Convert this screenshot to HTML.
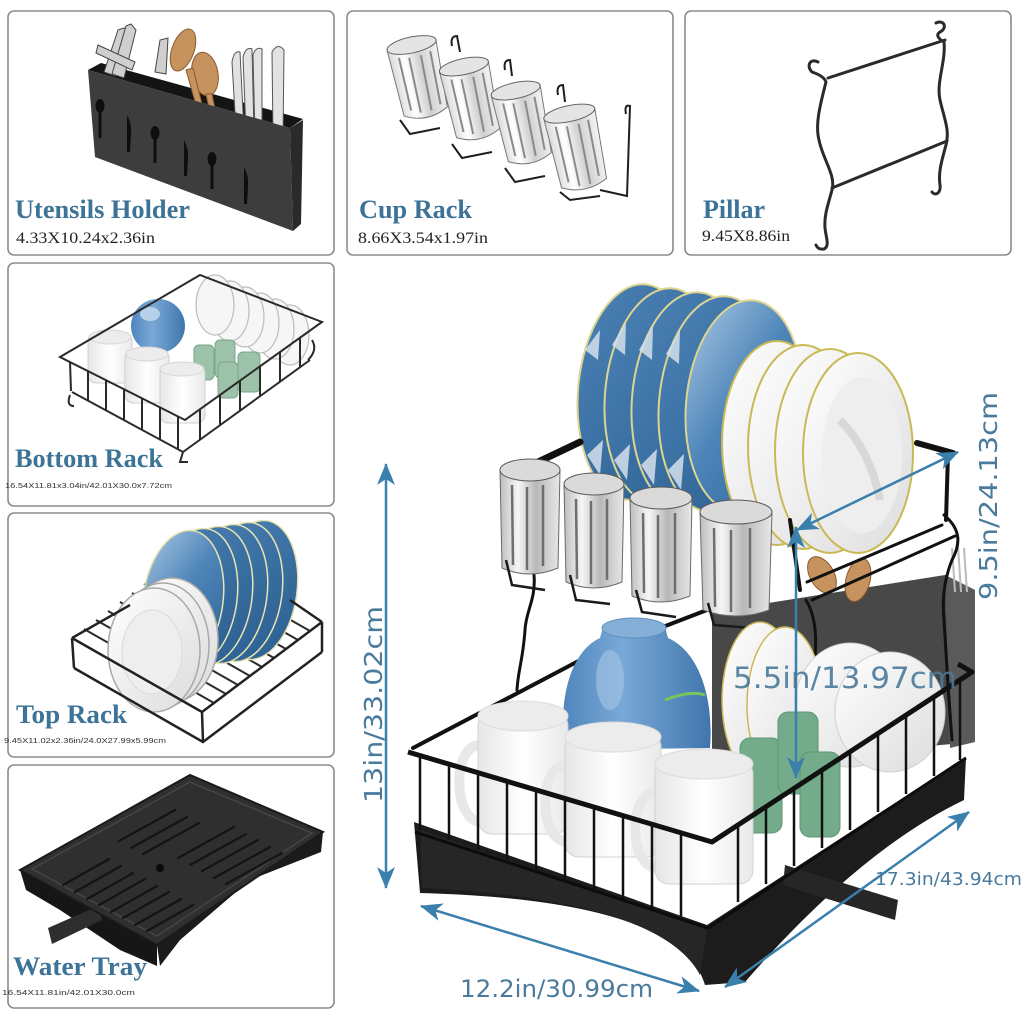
<!DOCTYPE html>
<html><head><meta charset="utf-8"><style>
html,body{margin:0;padding:0;background:#fff;}
svg{display:block}
.t{font-family:"Liberation Serif",serif;font-weight:bold;fill:#3c7396;font-size:26px}
.s{font-family:"Liberation Serif",serif;fill:#222;font-size:16px}
.m{font-family:"Liberation Sans",sans-serif;fill:#333;font-size:7.5px}
.d{font-family:"DejaVu Sans","Liberation Sans",sans-serif;fill:#4a7a9c}
</style></head><body>
<svg width="1024" height="1024" viewBox="0 0 1024 1024" xmlns="http://www.w3.org/2000/svg">
<defs>
<marker id="ah" markerUnits="userSpaceOnUse" markerWidth="22" markerHeight="18" viewBox="0 0 22 18" refX="21" refY="9" orient="auto-start-reverse"><path d="M0,0 L22,9 L0,18 L6,9 Z" fill="#3b7fad"/></marker>
<linearGradient id="bp" x1="0" y1="0" x2="1" y2="1"><stop offset="0" stop-color="#4c82b6"/><stop offset="1" stop-color="#2a5e90"/></linearGradient>
<linearGradient id="bp2" x1="0" y1="0" x2="1" y2="1"><stop offset="0" stop-color="#a9c6e2"/><stop offset="0.45" stop-color="#4f86ba"/><stop offset="1" stop-color="#2d6296"/></linearGradient>
<linearGradient id="wp" x1="0" y1="0" x2="1" y2="1"><stop offset="0" stop-color="#ffffff"/><stop offset="1" stop-color="#dcdcdc"/></linearGradient>
<linearGradient id="bowl" x1="0" y1="0" x2="1" y2="0"><stop offset="0" stop-color="#4f86bd"/><stop offset="0.4" stop-color="#7aa8d6"/><stop offset="1" stop-color="#3f76ad"/></linearGradient>
<linearGradient id="gl" x1="0" y1="0" x2="1" y2="0"><stop offset="0" stop-color="#d8d8d8"/><stop offset="0.3" stop-color="#ffffff"/><stop offset="0.6" stop-color="#cfcfcf"/><stop offset="1" stop-color="#f4f4f4"/></linearGradient>
<linearGradient id="gl2" x1="0" y1="0" x2="1" y2="0"><stop offset="0" stop-color="#bdbdbd"/><stop offset="0.3" stop-color="#f6f6f6"/><stop offset="0.6" stop-color="#b8b8b8"/><stop offset="1" stop-color="#e8e8e8"/></linearGradient>
<linearGradient id="mug" x1="0" y1="0" x2="1" y2="0"><stop offset="0" stop-color="#e6e6e6"/><stop offset="0.5" stop-color="#ffffff"/><stop offset="1" stop-color="#e9e9e9"/></linearGradient>
</defs>
<rect width="1024" height="1024" fill="#fff"/>

<!-- BOX FRAMES -->
<g fill="#fff" stroke="#8c8c8c" stroke-width="1.6">
<rect x="8" y="11" width="326" height="244" rx="6"/>
<rect x="347" y="11" width="326" height="244" rx="6"/>
<rect x="685" y="11" width="326" height="244" rx="6"/>
<rect x="8" y="263" width="326" height="243" rx="6"/>
<rect x="8" y="513" width="326" height="244" rx="6"/>
<rect x="8" y="765" width="326" height="243" rx="6"/>
</g>

<!-- BOX A: Utensils holder -->
<polygon points="88,70 101,63 303,119 290,128" fill="#141414"/>
<g stroke="#444" stroke-width="1" fill="#cfcfcf">
<path d="M104,72 L118,30 L124,28 L128,32 L115,76 Z"/>
<path d="M112,74 L126,26 L131,24 L136,30 L124,78 Z"/>
<path d="M98,45 L135,62 L132,70 L96,53 Z"/>
<path d="M155,72 L160,40 L168,38 L166,74 Z"/>
</g>
<g fill="#c6925d" stroke="#8a5a30" stroke-width="1">
<ellipse cx="183" cy="50" rx="11" ry="22" transform="rotate(20 183 50)"/>
<ellipse cx="205" cy="74" rx="13" ry="22" transform="rotate(-10 205 74)"/>
<path d="M186,70 L198,112 L204,112 L193,68 Z"/>
<path d="M206,94 L210,114 L216,114 L212,94 Z"/>
</g>
<g fill="#e2e2e2" stroke="#555" stroke-width="1">
<path d="M232,62 Q234,50 240,52 L244,132 L236,130 Z"/>
<path d="M243,57 Q246,46 252,49 L254,134 L246,132 Z"/>
<path d="M253,55 Q256,46 262,49 L262,136 L255,135 Z"/>
<path d="M272,52 Q278,42 284,50 L283,140 L273,138 Z"/>
</g>
<polygon points="88,70 290,128 293,231 95,157" fill="#3d3d3d"/>
<polygon points="290,128 303,120 301,224 293,231" fill="#2a2a2a"/>
<g fill="#0e0e0e">
<ellipse cx="100" cy="106" rx="4.5" ry="7"/><rect x="98.5" y="110" width="3" height="28"/>
<path d="M127,115 Q132,124 131,134 L130,152 L127,152 Z"/>
<ellipse cx="155" cy="133" rx="4.5" ry="7"/><rect x="153.5" y="137" width="3" height="26"/>
<path d="M184,140 Q189,149 188,159 L187,176 L184,176 Z"/>
<ellipse cx="212" cy="159" rx="4.5" ry="7"/><rect x="210.5" y="163" width="3" height="26"/>
<path d="M244,167 Q249,176 248,186 L247,204 L244,204 Z"/>
</g>
<text class="t" x="15" y="218" textLength="175" lengthAdjust="spacingAndGlyphs">Utensils Holder</text>
<text class="s" x="16" y="243" textLength="139" lengthAdjust="spacingAndGlyphs">4.33X10.24x2.36in</text>

<!-- BOX B: Cup rack -->
<g transform="rotate(-12 420 80)">
<path d="M394,44 L397,112 Q419,124 441,112 L444,44 Z" fill="url(#gl)" stroke="#777"/>
<ellipse cx="419" cy="44" rx="25" ry="8" fill="#e4e4e4" stroke="#666"/>
<g stroke="#8a8a8a" stroke-width="2"><line x1="404" y1="54" x2="405" y2="108"/><line x1="414" y1="56" x2="414" y2="112"/><line x1="426" y1="56" x2="425" y2="112"/><line x1="436" y1="54" x2="435" y2="108"/></g>
</g>
<g transform="rotate(-12 470 100)">
<path d="M446,66 L449,134 Q471,146 493,134 L496,66 Z" fill="url(#gl)" stroke="#777"/>
<ellipse cx="471" cy="66" rx="25" ry="8" fill="#e4e4e4" stroke="#666"/>
<g stroke="#8a8a8a" stroke-width="2"><line x1="456" y1="76" x2="457" y2="130"/><line x1="466" y1="78" x2="466" y2="134"/><line x1="478" y1="78" x2="477" y2="134"/><line x1="488" y1="76" x2="487" y2="130"/></g>
</g>
<g transform="rotate(-12 522 125)">
<path d="M498,90 L501,158 Q523,170 545,158 L548,90 Z" fill="url(#gl)" stroke="#777"/>
<ellipse cx="523" cy="90" rx="25" ry="8" fill="#e4e4e4" stroke="#666"/>
<g stroke="#8a8a8a" stroke-width="2"><line x1="508" y1="100" x2="509" y2="154"/><line x1="518" y1="102" x2="518" y2="158"/><line x1="530" y1="102" x2="529" y2="158"/><line x1="540" y1="100" x2="539" y2="154"/></g>
</g>
<g transform="rotate(-12 576 150)">
<path d="M551,113 L554,184 Q577,196 600,184 L603,113 Z" fill="url(#gl)" stroke="#777"/>
<ellipse cx="577" cy="113" rx="26" ry="8" fill="#e4e4e4" stroke="#666"/>
<g stroke="#8a8a8a" stroke-width="2"><line x1="561" y1="123" x2="562" y2="180"/><line x1="572" y1="125" x2="572" y2="186"/><line x1="584" y1="125" x2="583" y2="186"/><line x1="594" y1="123" x2="593" y2="180"/></g>
</g>
<g fill="none" stroke="#1e1e1e" stroke-width="2">
<path d="M452,46 Q450,36 457,36 L460,52"/>
<path d="M505,70 Q503,60 510,60 L512,76"/>
<path d="M558,95 Q556,85 563,85 L565,102"/>
<path d="M626,114 Q624,104 630,106 L627,196 L600,190"/>
<path d="M400,120 L410,134 L440,128"/>
<path d="M452,144 L462,158 L492,152"/>
<path d="M505,168 L515,182 L545,176"/>
<path d="M560,192 L570,200 L600,196"/>
</g>
<text class="t" x="359" y="218" textLength="113" lengthAdjust="spacingAndGlyphs">Cup Rack</text>
<text class="s" x="358" y="243" textLength="130" lengthAdjust="spacingAndGlyphs">8.66X3.54x1.97in</text>

<!-- BOX C: Pillar -->
<g fill="none" stroke="#2a2a2a" stroke-width="3" stroke-linecap="round">
<path d="M818,62 C810,58 806,66 812,72 Q824,76 826,82 C820,105 815,125 819,140 C823,160 836,175 832,190 C828,205 824,215 825,228 C826,238 830,246 824,249 Q818,250 816,245"/>
<path d="M936,23 C944,19 948,28 940,32 Q934,36 944,42 C946,62 936,82 940,100 C944,118 950,130 946,145 C942,160 938,172 940,185 C941,192 936,197 932,192"/>
<line x1="828" y1="78" x2="945" y2="40"/>
<line x1="832" y1="188" x2="947" y2="141"/>
</g>
<text class="t" x="703" y="218" textLength="62" lengthAdjust="spacingAndGlyphs">Pillar</text>
<text class="s" x="702" y="241" textLength="88" lengthAdjust="spacingAndGlyphs">9.45X8.86in</text>

<!-- BOX D: Bottom rack -->
<g fill="#f6f6f6" stroke="#bcbcbc" stroke-width="1.2">
<ellipse cx="290" cy="335" rx="19" ry="30"/>
<ellipse cx="275" cy="329" rx="19" ry="30"/>
<ellipse cx="260" cy="323" rx="19" ry="30"/>
<ellipse cx="245" cy="317" rx="19" ry="30"/>
<ellipse cx="230" cy="311" rx="19" ry="30"/>
<ellipse cx="215" cy="305" rx="19" ry="30"/>
</g>
<circle cx="158" cy="326" r="27" fill="url(#bowl)"/>
<ellipse cx="150" cy="314" rx="10" ry="7" fill="#b7d1ea"/>
<g fill="#9cc3aa" stroke="#7aa58a">
<rect x="194" y="345" width="20" height="35" rx="5"/>
<rect x="215" y="340" width="20" height="38" rx="5"/>
<rect x="238" y="352" width="22" height="40" rx="5"/>
<rect x="218" y="362" width="20" height="36" rx="5"/>
</g>
<g fill="url(#mug)" stroke="#cfcfcf">
<rect x="88" y="333" width="44" height="50" rx="8"/>
<rect x="125" y="350" width="44" height="53" rx="8"/>
<rect x="160" y="365" width="45" height="58" rx="8"/>
</g>
<g fill="#ececec" stroke="#d6d6d6"><ellipse cx="110" cy="337" rx="21" ry="7"/><ellipse cx="147" cy="354" rx="21" ry="7"/><ellipse cx="182" cy="369" rx="22" ry="7"/></g>
<g fill="none" stroke="#2a2a2a" stroke-width="2">
<polygon points="60,357 200,275 322,322 185,420"/>
<polyline points="72,392 183,452 310,360"/>
<line x1="70" y1="362" x2="71" y2="391"/><line x1="88" y1="371" x2="88" y2="401"/><line x1="106" y1="380" x2="106" y2="410"/><line x1="124" y1="389" x2="124" y2="420"/><line x1="142" y1="398" x2="142" y2="430"/><line x1="160" y1="407" x2="160" y2="440"/><line x1="178" y1="416" x2="178" y2="449"/>
<line x1="200" y1="409" x2="200" y2="440"/><line x1="220" y1="395" x2="220" y2="425"/><line x1="240" y1="381" x2="240" y2="411"/><line x1="260" y1="366" x2="260" y2="396"/><line x1="280" y1="352" x2="280" y2="382"/><line x1="300" y1="338" x2="300" y2="367"/>
<path d="M70,395 Q66,406 74,406"/><path d="M183,452 L180,462 L188,462"/><path d="M308,360 Q318,350 312,340"/>
</g>
<text class="t" x="15" y="467" textLength="148" lengthAdjust="spacingAndGlyphs">Bottom Rack</text>
<text class="m" x="5" y="488" textLength="167" lengthAdjust="spacingAndGlyphs">16.54X11.81x3.04in/42.01X30.0x7.72cm</text>

<!-- BOX E: Top rack -->
<g stroke="#2a2a2a" stroke-width="2">
<line x1="84" y1="629" x2="214" y2="703"/><line x1="96" y1="620" x2="226" y2="694"/><line x1="108" y1="611" x2="238" y2="685"/><line x1="120" y1="602" x2="250" y2="676"/><line x1="132" y1="593" x2="262" y2="667"/><line x1="144" y1="584" x2="274" y2="658"/><line x1="156" y1="575" x2="286" y2="649"/><line x1="168" y1="566" x2="298" y2="640"/><line x1="180" y1="557" x2="310" y2="631"/>
</g>
<g stroke="#e9e3b0" stroke-width="1.5" fill="url(#bp)">
<ellipse cx="257" cy="590" rx="40" ry="70" transform="rotate(8 257 590)"/>
<ellipse cx="242" cy="592" rx="40" ry="70" transform="rotate(8 242 592)"/>
<ellipse cx="227" cy="594" rx="40" ry="70" transform="rotate(8 227 594)"/>
<ellipse cx="212" cy="596" rx="40" ry="70" transform="rotate(8 212 596)"/>
<ellipse cx="197" cy="598" rx="40" ry="70" transform="rotate(8 197 598)"/>
<ellipse cx="183" cy="600" rx="40" ry="70" transform="rotate(8 183 600)" fill="url(#bp2)"/>
</g>
<g stroke="#a8a8a8" stroke-width="1.5" fill="url(#wp)">
<ellipse cx="172" cy="640" rx="46" ry="62"/>
<ellipse cx="163" cy="645" rx="46" ry="62"/>
<ellipse cx="154" cy="650" rx="46" ry="62"/>
</g>
<ellipse cx="152" cy="652" rx="30" ry="42" fill="#eeeeee" stroke="#dadada"/>
<g fill="none" stroke="#222" stroke-width="2.5">
<polyline points="72,638 202,712 322,622"/>
<polyline points="74,668 203,742 322,652"/>
<line x1="72" y1="638" x2="74" y2="668"/><line x1="202" y1="712" x2="203" y2="742"/><line x1="322" y1="622" x2="322" y2="652"/>
<line x1="72" y1="638" x2="130" y2="605"/><line x1="322" y1="622" x2="290" y2="600"/>
</g>
<text class="t" x="16" y="723" textLength="111" lengthAdjust="spacingAndGlyphs">Top Rack</text>
<text class="m" x="4" y="743" textLength="162" lengthAdjust="spacingAndGlyphs">9.45X11.02x2.36in/24.0X27.99x5.99cm</text>

<!-- BOX F: Water tray -->
<polygon points="20,870 157,945 157,966 120,950 60,910 26,890" fill="#161616"/>
<polygon points="157,945 323,832 321,852 250,880 180,940 160,966" fill="#1b1b1b"/>
<polygon points="48,928 98,906 102,920 52,944" fill="#2e2e2e"/>
<polygon points="20,870 190,775 323,832 157,945" fill="#2f2f2f" stroke="#1a1a1a" stroke-width="2"/>
<polygon points="32,869 190,782 312,833 157,936" fill="none" stroke="#454545" stroke-width="1.5"/>
<g stroke="#141414" stroke-width="2.2" stroke-linecap="round">
<line x1="63" y1="885" x2="109" y2="859"/>
<line x1="75" y1="892" x2="121" y2="866"/>
<line x1="87" y1="899" x2="133" y2="873"/>
<line x1="99" y1="905" x2="145" y2="879"/>
<line x1="111" y1="912" x2="157" y2="886"/>
<line x1="123" y1="918" x2="169" y2="892"/>
<line x1="135" y1="925" x2="181" y2="899"/>
<line x1="147" y1="931" x2="193" y2="905"/>
<line x1="119" y1="841" x2="175" y2="810"/>
<line x1="131" y1="848" x2="187" y2="817"/>
<line x1="143" y1="854" x2="199" y2="823"/>
<line x1="178" y1="858" x2="234" y2="827"/>
<line x1="190" y1="865" x2="246" y2="834"/>
<line x1="202" y1="871" x2="258" y2="840"/>
<line x1="214" y1="878" x2="270" y2="847"/>
<line x1="226" y1="884" x2="282" y2="853"/>
</g>
<circle cx="160" cy="868" r="4" fill="#0a0a0a"/>
<text class="t" x="13" y="975" textLength="134" lengthAdjust="spacingAndGlyphs">Water Tray</text>
<text class="m" x="2" y="995" textLength="133" lengthAdjust="spacingAndGlyphs">16.54X11.81in/42.01X30.0cm</text>

<!-- MAIN PRODUCT -->
<polygon points="712,612 945,575 975,590 975,742 712,765" fill="#484848"/>
<polygon points="945,575 975,590 975,742 950,748" fill="#5a5a5a"/>
<g fill="#c6925d" stroke="#8a5a30" stroke-width="1">
<ellipse cx="822" cy="575" rx="12" ry="20" transform="rotate(-30 822 575)"/>
<ellipse cx="858" cy="580" rx="12" ry="22" transform="rotate(15 858 580)"/>
</g>
<g stroke="#bbb" stroke-width="2"><line x1="952" y1="548" x2="955" y2="592"/><line x1="958" y1="546" x2="961" y2="592"/><line x1="964" y1="548" x2="967" y2="592"/></g>

<g stroke="#ddd58f" stroke-width="2">
<ellipse cx="636" cy="392" rx="58" ry="108" transform="rotate(5 636 392)" fill="url(#bp)"/>
<ellipse cx="663" cy="396" rx="58" ry="108" transform="rotate(5 663 396)" fill="url(#bp)"/>
<ellipse cx="690" cy="400" rx="58" ry="108" transform="rotate(5 690 400)" fill="url(#bp)"/>
<ellipse cx="717" cy="404" rx="58" ry="108" transform="rotate(5 717 404)" fill="url(#bp)"/>
<ellipse cx="744" cy="406" rx="58" ry="106" transform="rotate(5 744 406)" fill="url(#bp2)"/>
</g>
<g fill="#d4e0ec" opacity="0.85">
<polygon points="585,350 600,330 598,360"/><polygon points="612,345 626,322 625,355"/><polygon points="639,350 653,326 652,360"/><polygon points="666,354 680,330 679,364"/>
<polygon points="587,455 603,440 600,475"/><polygon points="614,460 630,444 627,480"/><polygon points="641,465 657,449 654,485"/><polygon points="668,470 684,454 681,490"/>
</g>

<g stroke="#c9b955" stroke-width="2" fill="url(#wp)">
<ellipse cx="777" cy="443" rx="55" ry="102"/>
<ellipse cx="803" cy="447" rx="55" ry="102"/>
<ellipse cx="830" cy="451" rx="55" ry="102"/>
<ellipse cx="858" cy="453" rx="55" ry="100"/>
</g>
<ellipse cx="862" cy="455" rx="40" ry="78" fill="#eeeeee"/>
<path d="M840,420 Q870,450 880,500" stroke="#d8d8d8" stroke-width="8" fill="none"/>

<g stroke="#111" stroke-linecap="round" fill="none">
<line x1="538" y1="462" x2="580" y2="442" stroke-width="7"/>
<line x1="917" y1="443" x2="953" y2="453" stroke-width="6"/>
<line x1="948" y1="453" x2="946" y2="520" stroke-width="4"/>
<line x1="790" y1="520" x2="800" y2="590" stroke-width="4"/>
<line x1="807" y1="582" x2="942" y2="525" stroke-width="3"/>
<line x1="812" y1="600" x2="955" y2="536" stroke-width="3"/>
<path d="M944,515 C962,530 960,545 952,560 C944,580 942,600 944,620 C946,650 948,690 952,740" stroke-width="3"/>
<path d="M534,575 C536,600 526,610 525,630 C523,660 518,670 517,690" stroke-width="3"/>
<polyline points="413,748 590,655 720,605" stroke-width="4"/>
<path d="M806,600 C830,640 800,700 812,770" stroke-width="3"/>
</g>

<g>
<path d="M500,470 L502,568 Q530,580 558,568 L560,470 Z" fill="url(#gl2)" stroke="#6a6a6a"/>
<ellipse cx="530" cy="470" rx="30" ry="11" fill="#dadada" stroke="#5a5a5a"/>
<path d="M564,484 L566,582 Q594,594 622,582 L624,484 Z" fill="url(#gl2)" stroke="#6a6a6a"/>
<ellipse cx="594" cy="484" rx="30" ry="11" fill="#dadada" stroke="#5a5a5a"/>
<path d="M630,498 L632,596 Q661,608 690,596 L692,498 Z" fill="url(#gl2)" stroke="#6a6a6a"/>
<ellipse cx="661" cy="498" rx="31" ry="11" fill="#dadada" stroke="#5a5a5a"/>
<path d="M700,512 L703,610 Q736,622 769,610 L772,512 Z" fill="url(#gl2)" stroke="#6a6a6a"/>
<ellipse cx="736" cy="512" rx="36" ry="12" fill="#dadada" stroke="#5a5a5a"/>
</g>
<g stroke="#6e6e6e" stroke-width="2.5">
<line x1="512" y1="485" x2="513" y2="565"/><line x1="527" y1="487" x2="527" y2="570"/><line x1="543" y1="485" x2="543" y2="566"/>
<line x1="576" y1="499" x2="577" y2="579"/><line x1="591" y1="501" x2="591" y2="584"/><line x1="607" y1="499" x2="607" y2="580"/>
<line x1="643" y1="513" x2="644" y2="593"/><line x1="658" y1="515" x2="658" y2="598"/><line x1="675" y1="513" x2="675" y2="594"/>
<line x1="714" y1="528" x2="715" y2="607"/><line x1="731" y1="530" x2="731" y2="612"/><line x1="750" y1="528" x2="750" y2="608"/>
</g>
<g fill="none" stroke="#1a1a1a" stroke-width="2.5">
<path d="M506,560 L512,585 L545,590"/><path d="M570,575 L576,600 L610,604"/><path d="M636,590 L642,612 L676,617"/><path d="M708,603 L714,625 L752,628"/>
</g>

<path d="M414,822 L707,925 L966,757 L964,800 Q860,850 745,982 L705,985 Q680,900 420,893 Z" fill="#1c1c1c"/>
<path d="M420,830 L707,930 L700,975 Q660,900 422,888 Z" fill="#262626"/>
<polygon points="785,865 898,900 895,920 783,885" fill="#262626"/>

<g stroke="#c9b955" stroke-width="1.5" fill="url(#wp)">
<ellipse cx="760" cy="700" rx="38" ry="78"/>
<ellipse cx="785" cy="705" rx="38" ry="78"/>
</g>
<g fill="url(#wp)" stroke="#cfcfcf">
<ellipse cx="850" cy="705" rx="55" ry="62"/>
<ellipse cx="890" cy="712" rx="55" ry="60"/>
</g>
<path d="M565,750 C558,700 570,652 600,638 L603,627 Q633,614 665,627 L668,638 C700,652 714,700 710,748 Z" fill="url(#bowl)"/>
<ellipse cx="634" cy="628" rx="32" ry="10" fill="#86afd8" stroke="#5f8fc0"/>
<path d="M665,700 Q690,690 705,695" stroke="#7bc35c" stroke-width="3" fill="none"/>
<ellipse cx="610" cy="680" rx="14" ry="30" fill="#a7c7e6" opacity="0.6"/>
<g fill="#74ab8b" stroke="#5d9474">
<rect x="740" y="738" width="42" height="95" rx="10"/>
<rect x="778" y="712" width="40" height="82" rx="10"/>
<rect x="800" y="752" width="40" height="85" rx="10"/>
</g>

<g>
<path d="M480,745 C452,745 452,822 482,822" fill="none" stroke="#e8e8e8" stroke-width="10"/>
<rect x="478" y="712" width="90" height="122" rx="14" fill="url(#mug)" stroke="#d2d2d2"/>
<ellipse cx="523" cy="716" rx="45" ry="15" fill="#ececec" stroke="#dcdcdc"/>
<path d="M566,765 C538,765 538,842 568,842" fill="none" stroke="#e8e8e8" stroke-width="10"/>
<rect x="565" y="733" width="96" height="124" rx="14" fill="url(#mug)" stroke="#d2d2d2"/>
<ellipse cx="613" cy="737" rx="48" ry="15" fill="#ececec" stroke="#dcdcdc"/>
<path d="M656,792 C628,792 628,868 658,868" fill="none" stroke="#e8e8e8" stroke-width="10"/>
<rect x="655" y="760" width="98" height="124" rx="14" fill="url(#mug)" stroke="#d2d2d2"/>
<ellipse cx="704" cy="764" rx="49" ry="15" fill="#ececec" stroke="#dcdcdc"/>
</g>

<g stroke="#111" stroke-width="2.5">
<line x1="420" y1="756" x2="420" y2="830"/><line x1="449" y1="764" x2="449" y2="840"/><line x1="478" y1="773" x2="478" y2="850"/><line x1="507" y1="781" x2="507" y2="860"/><line x1="536" y1="790" x2="536" y2="870"/><line x1="565" y1="799" x2="565" y2="880"/><line x1="594" y1="807" x2="594" y2="890"/><line x1="623" y1="816" x2="623" y2="899"/><line x1="652" y1="824" x2="652" y2="908"/><line x1="681" y1="833" x2="681" y2="916"/>
<line x1="738" y1="825" x2="738" y2="902"/><line x1="766" y1="807" x2="766" y2="884"/><line x1="794" y1="788" x2="794" y2="866"/><line x1="822" y1="770" x2="822" y2="848"/><line x1="850" y1="752" x2="850" y2="830"/><line x1="878" y1="733" x2="878" y2="812"/><line x1="906" y1="715" x2="906" y2="794"/><line x1="934" y1="697" x2="934" y2="776"/><line x1="960" y1="680" x2="960" y2="760"/>
</g>
<polyline points="415,832 708,928 966,758" fill="none" stroke="#0c0c0c" stroke-width="3"/>
<polyline points="408,752 712,842 972,672 958,664" fill="none" stroke="#111" stroke-width="5" stroke-linejoin="round"/>

<!-- DIMENSIONS -->
<g stroke="#3b7fad" stroke-width="2.5" fill="none" marker-start="url(#ah)" marker-end="url(#ah)">
<line x1="386" y1="464" x2="386" y2="888"/>
<line x1="421" y1="906" x2="699" y2="991"/>
<line x1="725" y1="987" x2="969" y2="812"/>
<line x1="796" y1="527" x2="796" y2="778"/>
<line x1="797" y1="530" x2="958" y2="452"/>
</g>
<text class="d" font-size="25" transform="translate(382,803) rotate(-90)" textLength="197" lengthAdjust="spacingAndGlyphs">13in/33.02cm</text>
<text class="d" font-size="25" transform="translate(997,600) rotate(-90)" textLength="208" lengthAdjust="spacingAndGlyphs">9.5in/24.13cm</text>
<text class="d" font-size="29" x="733" y="688" textLength="224" lengthAdjust="spacingAndGlyphs" opacity="0.9">5.5in/13.97cm</text>
<text class="d" font-size="24" x="460" y="997" textLength="193" lengthAdjust="spacingAndGlyphs">12.2in/30.99cm</text>
<text class="d" font-size="18" x="875" y="885" textLength="147" lengthAdjust="spacingAndGlyphs">17.3in/43.94cm</text>
</svg>
</body></html>
